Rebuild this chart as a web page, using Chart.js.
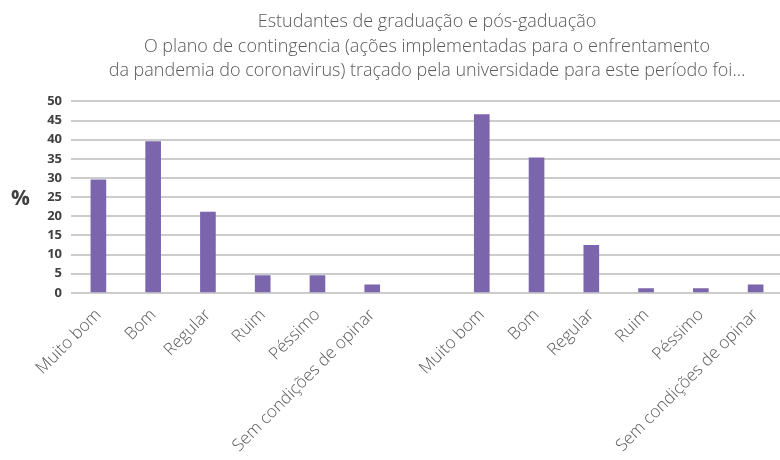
<!DOCTYPE html>
<html>
<head>
<meta charset="utf-8">
<script src="https://cdn.jsdelivr.net/npm/chart.js@4/dist/chart.umd.min.js"></script>
<style>
    body { margin: 0; background: #ffffff; overflow: hidden; }
    #wrap { position: relative; width: 792px; height: 460px; }
    #pct { position: absolute; left: 11px; top: 183px; font: bold 21px "Open Sans", sans-serif; color: #404040; }
</style>
</head>
<body>
<div id="wrap">
    <canvas id="chart" width="792" height="460"></canvas>
    <span id="pct">%</span>
</div>
<script>
const answers = ['Muito bom', 'Bom', 'Regular', 'Ruim', 'Péssimo', 'Sem condições de opinar'];
// left group, then right group; one empty slot between them
const leftValues = [29.5, 39.5, 21.1, 4.5, 4.5, 2.1];
const rightValues = [46.6, 35.3, 12.4, 1.1, 1.1, 2.1];
const yTicks = [0, 5, 10, 15, 20, 25, 30, 35, 40, 45, 50];
const titleLines = [
    'Estudantes de graduação e pós-gaduação',
    'O plano de contingencia (ações implementadas para o enfrentamento',
    'da pandemia do coronavirus) traçado pela universidade para este período foi…'
];

const labels = answers.concat([''], answers);
const values = leftValues.concat([null], rightValues);

new Chart(document.getElementById('chart'), {
    type: 'bar',
    data: {
        labels: labels,
        datasets: [{
            data: values,
            backgroundColor: '#7b66ad',
            barThickness: 15
        }]
    },
    options: {
        responsive: false,
        animation: false,
        devicePixelRatio: 1,
        layout: { padding: { left: 0, right: 9, top: 0, bottom: 0 } },
        plugins: {
            legend: { display: false },
            tooltip: { enabled: false },
            title: {
                display: true,
                fullSize: false,
                text: titleLines,
                color: '#595959',
                font: { family: 'Open Sans', size: 18, weight: '300', lineHeight: 1.36 },
                padding: { top: 10, bottom: 18 }
            }
        },
        scales: {
            x: {
                grid: { display: false },
                border: { display: false },
                ticks: {
                    autoSkip: false,
                    maxRotation: 45,
                    minRotation: 45,
                    color: '#595959',
                    padding: 4,
                    font: { family: 'Open Sans', size: 17, weight: '300' }
                }
            },
            y: {
                min: yTicks[0],
                max: yTicks[yTicks.length - 1],
                afterBuildTicks: function(scale) {
                    scale.ticks = yTicks.map(v => ({ value: v }));
                },
                afterFit: function(scale) {
                    scale.width = 71;
                },
                grid: { color: '#cccccc', lineWidth: 2, drawTicks: false },
                border: { display: false },
                ticks: {
                    color: '#404040',
                    padding: 9,
                    font: { family: 'Open Sans', size: 13, weight: 'bold' }
                }
            }
        }
    }
});
</script>
</body>
</html>
